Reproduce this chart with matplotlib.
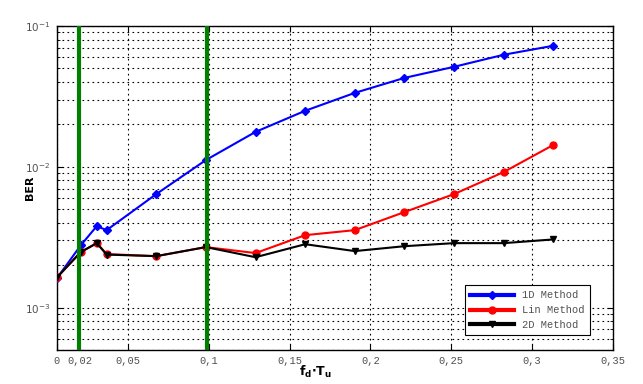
import matplotlib
matplotlib.use("Agg")
import matplotlib.pyplot as plt
from matplotlib.ticker import FixedLocator, LogLocator, NullFormatter

# Data
x = [0.0061, 0.0208, 0.0307, 0.0368, 0.0675, 0.0982, 0.1289, 0.1596,
     0.1903, 0.2210, 0.2517, 0.2824, 0.3131]
ber_1d = [1.62e-3, 2.77e-3, 3.79e-3, 3.55e-3, 6.40e-3, 1.117e-2, 1.77e-2,
          2.50e-2, 3.35e-2, 4.28e-2, 5.13e-2, 6.25e-2, 7.24e-2]
ber_lin = [1.64e-3, 2.48e-3, 2.87e-3, 2.40e-3, 2.32e-3, 2.69e-3, 2.44e-3,
           3.27e-3, 3.55e-3, 4.77e-3, 6.40e-3, 9.18e-3, 1.43e-2]
ber_2d = [1.64e-3, 2.48e-3, 2.87e-3, 2.38e-3, 2.32e-3, 2.69e-3, 2.28e-3,
          2.82e-3, 2.52e-3, 2.73e-3, 2.87e-3, 2.87e-3, 3.05e-3]
vlines = [0.0195, 0.099]
xtick_pos = [0.0061, 0.02, 0.05, 0.1, 0.15, 0.2, 0.25, 0.3, 0.35]
xtick_labels = ['0', '0,02', '0,05', '0,1', '0,15', '0,2', '0,25', '0,3', '0,35']
series_labels = ['1D Method', 'Lin Method', '2D Method']

plt.rcParams['mathtext.fontset'] = 'dejavusans'
mono = 'Liberation Mono'
tcol = '#505050'

fig = plt.figure(figsize=(6.43, 3.84), dpi=100)
ax = fig.add_axes([57/643, 1-350/384, (613-57)/643, (350-26)/384])

ax.plot(x, ber_1d, color='#0000ff', marker='D', markersize=4, lw=1.5,
        label=series_labels[0], zorder=3)
ax.plot(x, ber_lin, color='#ff0000', marker='o', markersize=5, lw=1.5,
        label=series_labels[1], zorder=4)
ax.plot(x, ber_2d, color='black', marker='v', markersize=5, lw=1.5,
        label=series_labels[2], zorder=5)
for v in vlines:
    ax.axvline(v, color='#007f00', lw=3, zorder=6)

ax.set_yscale('log')
ax.set_xlim(0.0061, 0.35)
ax.set_ylim(5e-4, 1e-1)
ax.xaxis.set_major_locator(FixedLocator(xtick_pos))
ax.set_xticklabels(xtick_labels, fontfamily=mono, fontsize=7.5, color=tcol)
ax.yaxis.set_major_locator(FixedLocator([1e-3, 1e-2, 1e-1]))
ax.yaxis.set_minor_locator(LogLocator(base=10, subs=range(2, 10)))
ax.yaxis.set_minor_formatter(NullFormatter())
ax.set_yticklabels([r'$10^{-3}$', r'$10^{-2}$', r'$10^{-1}$'], fontsize=7.5, color=tcol)

ax.grid(True, which='major', axis='x', linestyle=(0, (1.5, 3)), color='black', lw=0.8)
ax.grid(True, which='both', axis='y', linestyle=(0, (1.5, 3)), color='black', lw=0.8)
ax.tick_params(which='both', direction='in', top=True, right=True, length=4)
ax.tick_params(which='minor', length=2.5)
ax.tick_params(axis='x', pad=4)
ax.tick_params(axis='y', pad=5)
for s in ax.spines.values():
    s.set_linewidth(1.0)

ax.set_ylabel('BER', fontweight='bold', fontsize=8)
ax.yaxis.set_label_coords(-0.048, 0.5)
ax.set_xlabel(r'$\mathbf{f_d{\cdot}T_u}$', fontsize=9)
ax.xaxis.set_label_coords(0.465, -0.068)
ax.xaxis.label.set_va('center')
ax.yaxis.label.set_va('center')

leg = ax.legend(loc='lower right', bbox_to_anchor=(0.968, 0.03),
                prop={'family': mono, 'size': 7.5}, frameon=True, fancybox=False,
                edgecolor='black', framealpha=1, handlelength=4.2, borderpad=0.5,
                labelspacing=0.45)
leg.get_frame().set_linewidth(0.8)
for t in leg.get_texts():
    t.set_color(tcol)
for h in leg.get_lines():
    h.set_linewidth(3)

fig.savefig('out.png', dpi=100)
